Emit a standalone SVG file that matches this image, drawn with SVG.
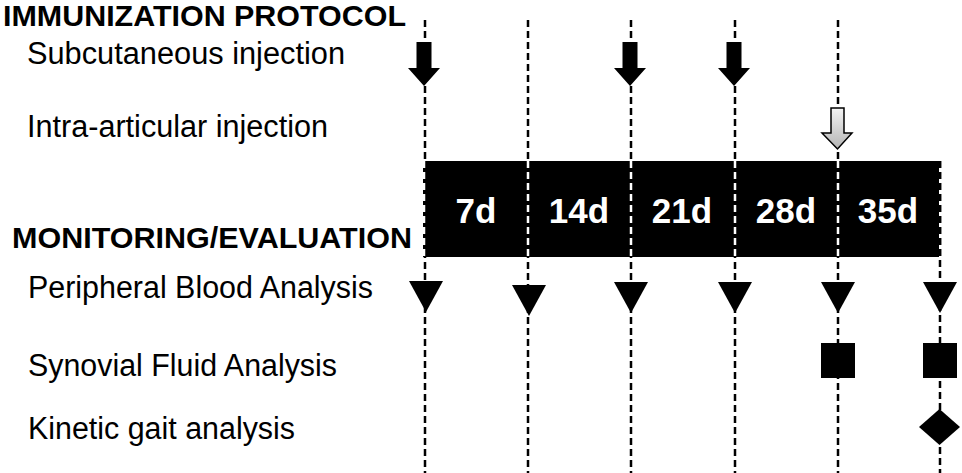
<svg xmlns="http://www.w3.org/2000/svg" width="962" height="473" viewBox="0 0 962 473">
<style>
.lbl{font-family:"Liberation Sans",Arial,sans-serif;font-size:31px;fill:#000}
.hd{font-family:"Liberation Sans",Arial,sans-serif;font-size:30px;font-weight:bold;fill:#000}
.day{font-family:"Liberation Sans",Arial,sans-serif;font-size:35px;font-weight:bold;fill:#fff;text-anchor:middle}
.dash{stroke:#000;stroke-width:2.5;stroke-dasharray:7,4;fill:none}
.wdash{stroke:#fff;stroke-width:2.5;stroke-dasharray:7,4;fill:none}
.blk{fill:#000}
</style>
<defs>
<linearGradient id="gg" x1="0" y1="0" x2="0" y2="1">
<stop offset="0" stop-color="#f4f4f4"/>
<stop offset="1" stop-color="#b4b4b4"/>
</linearGradient>
<path id="arr" d="M-7.5,0 H7.5 V26 H16 L0,44 L-16,26 H-7.5 Z"/>
<path id="tri" d="M-17,0 H17 L0,31 Z"/>
</defs>
<rect width="962" height="473" fill="#fff"/>
<g id="texts">
<text class="hd" x="3" y="26" textLength="403" lengthAdjust="spacingAndGlyphs">IMMUNIZATION PROTOCOL</text>
<text class="lbl" x="27" y="64" textLength="318" lengthAdjust="spacingAndGlyphs">Subcutaneous injection</text>
<text class="lbl" x="27" y="137" textLength="301" lengthAdjust="spacingAndGlyphs">Intra-articular injection</text>
<text class="hd" x="12" y="248" textLength="400" lengthAdjust="spacingAndGlyphs">MONITORING/EVALUATION</text>
<text class="lbl" x="28" y="298" textLength="345" lengthAdjust="spacingAndGlyphs">Peripheral Blood Analysis</text>
<text class="lbl" x="28" y="376" textLength="309" lengthAdjust="spacingAndGlyphs">Synovial Fluid Analysis</text>
<text class="lbl" x="28" y="439" textLength="267" lengthAdjust="spacingAndGlyphs">Kinetic gait analysis</text>
</g>
<g id="connectors">
<line class="dash" x1="425" y1="20" x2="425" y2="473"/>
<line class="dash" x1="528" y1="20" x2="528" y2="473"/>
<line class="dash" x1="631" y1="20" x2="631" y2="473"/>
<line class="dash" x1="735" y1="20" x2="735" y2="473"/>
<line class="dash" x1="838" y1="20" x2="838" y2="473"/>
<line class="dash" x1="940" y1="161" x2="940" y2="473"/>
</g>
<g id="timeline">
<rect x="423" y="161" width="516" height="96" fill="#000"/>
<line class="wdash" x1="424" y1="161" x2="424" y2="257"/>
<line class="wdash" x1="528" y1="161" x2="528" y2="257"/>
<line class="wdash" x1="631" y1="161" x2="631" y2="257"/>
<line class="wdash" x1="735" y1="161" x2="735" y2="257"/>
<line class="wdash" x1="838" y1="161" x2="838" y2="257"/>
<line x1="940" y1="161" x2="940" y2="257" stroke="#000" stroke-width="2.5" stroke-dasharray="7,4"/>
<text class="day" x="476" y="223">7d</text>
<text class="day" x="579" y="223">14d</text>
<text class="day" x="682" y="223">21d</text>
<text class="day" x="786" y="223">28d</text>
<text class="day" x="888" y="223">35d</text>
</g>
<g id="subcutaneous-arrows">
<use href="#arr" x="424" y="42" class="blk"/>
<use href="#arr" x="630" y="42" class="blk"/>
<use href="#arr" x="734" y="42" class="blk"/>
</g>
<g id="intra-articular-arrow">
<path d="M831,108 H844 V133 H852 L837.5,149 L822,133 H831 Z" fill="url(#gg)" stroke="#000" stroke-width="1.5" stroke-linejoin="miter"/>
</g>
<g id="blood-markers">
<use href="#tri" x="426" y="281" class="blk"/>
<use href="#tri" x="529" y="285" class="blk"/>
<use href="#tri" x="631" y="282" class="blk"/>
<use href="#tri" x="735" y="282" class="blk"/>
<use href="#tri" x="838" y="282" class="blk"/>
<use href="#tri" x="940" y="282" class="blk"/>
</g>
<g id="synovial-markers">
<rect x="821" y="343" width="34" height="35" fill="#000"/>
<rect x="923" y="343" width="34" height="35" fill="#000"/>
</g>
<g id="gait-marker">
<path d="M939.5,409 L960,427 L939.5,445 L919,427 Z" fill="#000"/>
</g>
</svg>
